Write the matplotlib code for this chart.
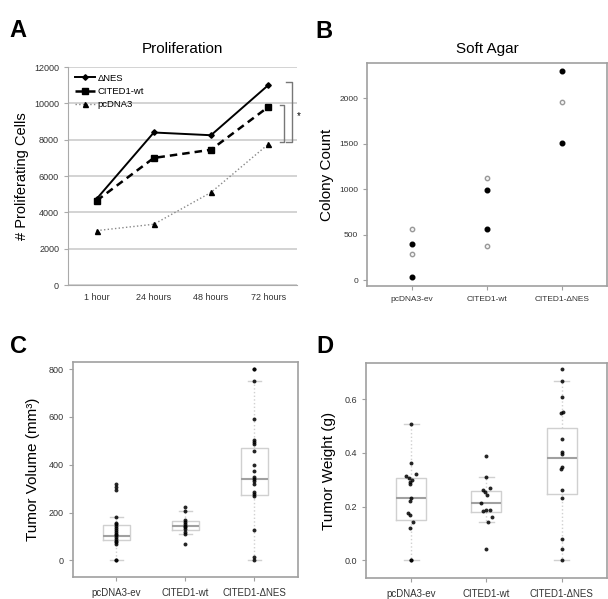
import numpy as np
import matplotlib
matplotlib.use('Agg')
import matplotlib.pyplot as plt

plt.rcParams['font.family'] = ['Liberation Sans', 'DejaVu Sans']

# Panel A - proliferation
hours = ['1 hour', '24 hours', '48 hours', '72 hours']
prolif_nes = [4750, 8400, 8250, 11000]
prolif_wt = [4650, 7000, 7450, 9800]
prolif_pc = [3000, 3350, 5100, 7750]

groups = ['pcDNA3-ev', 'CITED1-wt', 'CITED1-\u0394NES']

# Panel B - soft agar colony counts (filled and open points)
agar_filled = [[396, 37], [991, 569], [2305, 1508]]
agar_open = [[569, 286], [1127, 378], [1956]]

# Panel C - tumor volume
vol_pc = [318, 307, 296, 181, 158, 150, 143, 136, 128, 120, 112, 104, 97, 90, 82, 75, 68, 0, 0]
vol_wt = [223, 206, 170, 160, 152, 145, 138, 130, 120, 109, 70]
vol_nes = [800, 800, 751, 593, 505, 495, 486, 458, 397, 373, 349, 342, 332, 318,
           286, 276, 268, 128, 14, 3]
# box stats: whislo, q1, med, q3, whishi
vol_box = [[0, 84, 102, 149, 181], [109, 128, 144, 163, 206], [0, 275, 342, 470, 751]]

# Panel D - tumor weight
wt_pc = [0.51, 0.361, 0.32, 0.314, 0.305, 0.299, 0.292, 0.286, 0.233, 0.22, 0.174, 0.168,
         0.141, 0.121, 0.0, 0.0]
wt_pc_jit = [0, 0, 0.058, -0.062, -0.03, 0.013, -0.01, -0.018, 0, -0.02, -0.04, -0.018,
             0.027, -0.02, 0, 0]
wt_wt = [0.39, 0.311, 0.27, 0.261, 0.253, 0.243, 0.212, 0.187, 0.183, 0.187, 0.162, 0.141, 0.04]
wt_wt_jit = [0, 0, 0.053, -0.044, -0.013, 0.01, -0.076, 0, -0.044, 0.044, 0.075, 0.02, 0]
wt_nes = [0.712, 0.67, 0.61, 0.554, 0.548, 0.451, 0.403, 0.396, 0.348, 0.341, 0.261, 0.232,
          0.078, 0.041, 0.0]
wt_nes_jit = [0, 0, 0, 0.02, -0.01, 0, 0, 0, 0.01, -0.01, 0, 0, 0, 0, 0]
weight_box = [[0, 0.149, 0.233, 0.305, 0.51], [0.141, 0.18, 0.212, 0.258, 0.311],
              [0, 0.245, 0.38, 0.494, 0.67]]

fig = plt.figure(figsize=(6.08, 5.99), dpi=100)

frame_col = '#a0a0a0'
txt_col = '#333333'


def r_frame(ax):
    for s in ax.spines.values():
        s.set_color(frame_col)
        s.set_linewidth(1.2)
    ax.tick_params(axis='both', colors=frame_col, labelcolor=txt_col, length=3, width=0.8)


def draw_box(ax, box):
    stats = []
    for b in box:
        stats.append(dict(whislo=b[0], q1=b[1], med=b[2], q3=b[3], whishi=b[4], fliers=[]))
    ax.bxp(stats, positions=[1, 2, 3], widths=0.4, capwidths=0.2, showfliers=False,
           boxprops=dict(color='#d0d0d0', lw=1.0),
           medianprops=dict(color='#a0a0a0', lw=1.5),
           whiskerprops=dict(color='#d0d0d0', lw=1.0, ls=':'),
           capprops=dict(color='#d0d0d0', lw=1.0))


# ---- A ----
axA = fig.add_axes([0.112, 0.524, 0.376, 0.364])
x = np.arange(len(hours))
axA.plot(x, prolif_nes, color='black', lw=1.4, marker='D', ms=2.8, label='\u0394NES')
axA.plot(x, prolif_wt, color='black', lw=1.8, ls=(0, (3, 2)), marker='s', ms=4.2,
         label='CITED1-wt')
axA.plot(x, prolif_pc, color='#888888', lw=1.0, ls=':', marker='^', ms=3.6, mfc='black',
         mec='black', label='pcDNA3')
axA.set_xlim(-0.5, 3.5)
axA.set_ylim(0, 12000)
axA.set_yticks(range(0, 12001, 2000))
axA.set_xticks(x)
axA.set_xticklabels(hours)
axA.yaxis.grid(True, color='#cccccc', lw=1.2)
axA.set_axisbelow(True)
for s in ['top', 'right']:
    axA.spines[s].set_visible(False)
for s in ['left', 'bottom']:
    axA.spines[s].set_color('#aaaaaa')
axA.tick_params(axis='y', colors='#aaaaaa', labelcolor=txt_col, labelsize=6.5, length=3)
axA.tick_params(axis='x', length=0, labelcolor=txt_col, labelsize=6.5, pad=6)
axA.set_title('Proliferation', fontsize=11, pad=10)
axA.set_ylabel('# Proliferating Cells', fontsize=10.5)
axA.yaxis.set_label_coords(-0.17, 0.5)
axA.legend(loc='upper left', frameon=False, fontsize=6.8, handlelength=2.2,
           handletextpad=0.2, labelspacing=0.45, borderaxespad=0.3)
# significance brackets
bk = dict(color='#777777', lw=1.0, clip_on=False)
axA.plot([3.32, 3.41, 3.41, 3.32], [11190, 11190, 7890, 7890], **bk)
axA.plot([3.2, 3.28, 3.28, 3.2], [9900, 9900, 7890, 7890], **bk)
axA.text(3.5, 9300, '*', fontsize=7, ha='left', va='center', clip_on=False)

# ---- B ----
axB = fig.add_axes([0.604, 0.5225, 0.394, 0.3725])
for i in range(3):
    axB.scatter([i + 1] * len(agar_open[i]), agar_open[i], s=10, facecolor='#f4f4f4',
                edgecolor='#999999', lw=1.0, zorder=3)
    axB.scatter([i + 1] * len(agar_filled[i]), agar_filled[i], s=11, color='black', zorder=3)
axB.set_xlim(0.4, 3.6)
axB.set_ylim(-61, 2391)
axB.set_yticks([0, 500, 1000, 1500, 2000])
axB.set_xticks([1, 2, 3])
axB.set_xticklabels(groups)
r_frame(axB)
axB.tick_params(labelsize=6)
axB.tick_params(axis='x', pad=4)
axB.set_title('Soft Agar', fontsize=11, pad=7)
axB.set_ylabel('Colony Count', fontsize=11)
axB.yaxis.set_label_coords(-0.1375, 0.5)

# ---- C ----
axC = fig.add_axes([0.120, 0.0367, 0.370, 0.359])
draw_box(axC, vol_box)
for i, vals in enumerate([vol_pc, vol_wt, vol_nes]):
    axC.scatter([i + 1] * len(vals), vals, s=8, color='black', alpha=0.85, lw=0, zorder=3)
axC.set_xlim(0.37, 3.63)
axC.set_ylim(-70, 830)
axC.set_yticks([0, 200, 400, 600, 800])
axC.set_xticks([1, 2, 3])
axC.set_xticklabels(groups)
r_frame(axC)
axC.tick_params(labelsize=6.5)
axC.tick_params(axis='x', labelsize=7, pad=5)
axC.set_ylabel('Tumor Volume (mm\u00b3)', fontsize=11)
axC.yaxis.set_label_coords(-0.147, 0.5)

# ---- D ----
axD = fig.add_axes([0.602, 0.035, 0.396, 0.359])
draw_box(axD, weight_box)
for i, (vals, jit) in enumerate([(wt_pc, wt_pc_jit), (wt_wt, wt_wt_jit), (wt_nes, wt_nes_jit)]):
    axD.scatter(np.array(jit) + i + 1, vals, s=8, color='black', alpha=0.85, lw=0, zorder=3)
axD.set_xlim(0.4, 3.6)
axD.set_ylim(-0.067, 0.736)
axD.set_yticks([0.0, 0.2, 0.4, 0.6])
axD.set_yticklabels(['0.0', '0.2', '0.4', '0.6'])
axD.set_xticks([1, 2, 3])
axD.set_xticklabels(groups)
r_frame(axD)
axD.tick_params(labelsize=6.5)
axD.tick_params(axis='x', labelsize=7, pad=5)
axD.set_ylabel('Tumor Weight (g)', fontsize=11)
axD.yaxis.set_label_coords(-0.124, 0.5)

# panel letters
for lx, ly, lt in [(0.016, 0.938, 'A'), (0.518, 0.937, 'B'), (0.016, 0.411, 'C'),
                   (0.521, 0.411, 'D')]:
    fig.text(lx, ly, lt, fontsize=17, fontweight='bold', va='baseline')

fig.savefig('out.png', dpi=100)
